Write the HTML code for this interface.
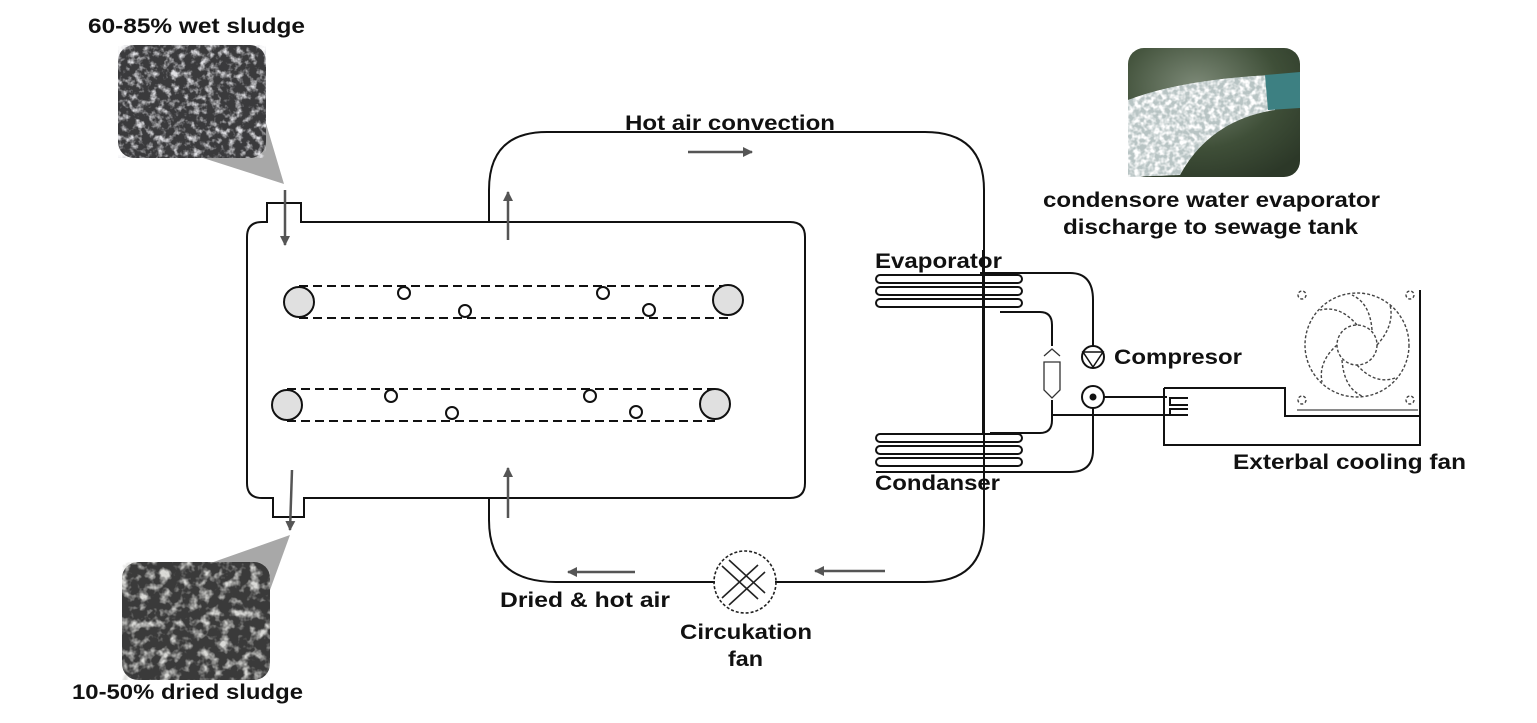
<!DOCTYPE html>
<html><head><meta charset="utf-8"><style>
html,body{margin:0;padding:0;background:#fff;}
svg{display:block;}
text{font-family:"Liberation Sans",Arial,sans-serif;font-weight:bold;font-size:21px;fill:#111;}
</style></head><body>
<svg width="1537" height="723" viewBox="0 0 1537 723" xmlns="http://www.w3.org/2000/svg">
<defs>
<filter id="noise" x="0" y="0" width="100%" height="100%">
<feTurbulence type="fractalNoise" baseFrequency="0.14" numOctaves="3" seed="3"/>
<feColorMatrix type="matrix" values="0 0 0 0 0.75  0 0 0 0 0.75  0 0 0 0 0.78  0 0 0 -3 1.6"/>
</filter>
<filter id="noise2" x="0" y="0" width="100%" height="100%">
<feTurbulence type="fractalNoise" baseFrequency="0.1" numOctaves="3" seed="7"/>
<feColorMatrix type="matrix" values="0 0 0 0 0.7  0 0 0 0 0.7  0 0 0 0 0.68  0 0 0 -3 1.6"/>
</filter>
<filter id="spray" x="0" y="0" width="100%" height="100%">
<feTurbulence type="fractalNoise" baseFrequency="0.2" numOctaves="2" seed="11"/>
<feColorMatrix type="matrix" values="0 0 0 0 1  0 0 0 0 1  0 0 0 0 1  0 0 0 -3 1.9"/>
</filter>
<radialGradient id="bg" cx="0.4" cy="0.3" r="0.8">
<stop offset="0" stop-color="#7d8a78"/><stop offset="0.6" stop-color="#3f4f38"/><stop offset="1" stop-color="#2c3828"/>
</radialGradient>
<clipPath id="sprayclip"><path d="M1128,150 L1128,100 Q1180,80 1270,75 L1275,110 Q1210,120 1180,175 L1128,177 Z"/></clipPath>
<marker id="ah" viewBox="0 0 10 10" refX="9" refY="5" markerWidth="4" markerHeight="4" orient="auto"><path d="M0,0 L10,5 L0,10 z" fill="#555"/></marker>
</defs>

<polygon points="200,157 265,120 284,184" fill="#a8a8a8"/>
<rect x="118" y="45" width="148" height="113" rx="16" fill="#3a3a3c"/>
<rect x="118" y="45" width="148" height="113" rx="16" fill="#000" filter="url(#noise)"/>
<polygon points="290,535 205,565 270,590" fill="#a8a8a8"/>
<rect x="122" y="562" width="148" height="118" rx="16" fill="#3a3a3a"/>
<rect x="122" y="562" width="148" height="118" rx="16" fill="#000" filter="url(#noise2)"/>
<rect x="1128" y="48" width="172" height="129" rx="16" fill="url(#bg)"/>
<path d="M1128,150 L1128,100 Q1180,80 1270,75 L1275,110 Q1210,120 1180,175 L1128,177 Z" fill="#b8c4c4"/>
<rect x="1128" y="48" width="172" height="129" fill="#000" filter="url(#spray)" clip-path="url(#sprayclip)"/>
<path d="M1265,75 L1300,72 L1300,108 L1268,110 Z" fill="#3d8082"/>

<text x="88" y="33" textLength="217" lengthAdjust="spacingAndGlyphs">60-85% wet sludge</text>
<text x="625" y="130" textLength="210" lengthAdjust="spacingAndGlyphs">Hot air convection</text>
<text x="1043" y="207" textLength="337" lengthAdjust="spacingAndGlyphs">condensore water evaporator</text>
<text x="1063" y="234" textLength="295" lengthAdjust="spacingAndGlyphs">discharge to sewage tank</text>
<text x="875" y="268" textLength="127" lengthAdjust="spacingAndGlyphs">Evaporator</text>
<text x="1114" y="364" textLength="128" lengthAdjust="spacingAndGlyphs">Compresor</text>
<text x="1233" y="469" textLength="233" lengthAdjust="spacingAndGlyphs">Exterbal cooling fan</text>
<text x="875" y="490" textLength="125" lengthAdjust="spacingAndGlyphs">Condanser</text>
<text x="500" y="607" textLength="170" lengthAdjust="spacingAndGlyphs">Dried &amp; hot air</text>
<text x="680" y="639" textLength="132" lengthAdjust="spacingAndGlyphs">Circukation</text>
<text x="728" y="666" textLength="35" lengthAdjust="spacingAndGlyphs">fan</text>
<text x="72" y="699" textLength="231" lengthAdjust="spacingAndGlyphs">10-50% dried sludge</text>

<g fill="none" stroke="#111" stroke-width="2">
<path d="M267,222 V203 H301 V222 H790 Q805,222 805,237 V483 Q805,498 790,498 H304 V517 H273 V498 H262 Q247,498 247,483 V237 Q247,222 262,222 Z"/>
<path d="M489,222 V190 Q489,132 547,132 H925 Q984,132 984,190 V525 Q984,582 925,582 H775"/>
<path d="M715,582 H556 Q489,582 489,520 V498"/>
<g stroke-dasharray="9,5">
<line x1="299" y1="286" x2="728" y2="286"/><line x1="299" y1="318" x2="728" y2="318"/>
<line x1="287" y1="389" x2="715" y2="389"/><line x1="287" y1="421" x2="715" y2="421"/>
</g>
<rect x="876" y="275" width="146" height="8" rx="4"/>
<rect x="876" y="287" width="146" height="8" rx="4"/>
<rect x="876" y="299" width="146" height="8" rx="4"/>
<rect x="876" y="434" width="146" height="8" rx="4"/>
<rect x="876" y="446" width="146" height="8" rx="4"/>
<rect x="876" y="458" width="146" height="8" rx="4"/>
<line x1="983" y1="250" x2="983" y2="434"/>
<path d="M980,273 H1070 Q1093,273 1093,300 V346"/>
<path d="M1093,408 V450 Q1093,472 1070,472 H876"/>
<path d="M1000,312 H1040 Q1052,312 1052,325 V346"/>
<path d="M1052,400 V420 Q1052,433 1040,433 H990"/>
<line x1="1052" y1="415" x2="1188" y2="415"/>
<line x1="1104" y1="397" x2="1167" y2="397"/>
<path d="M1164,388 H1285 V416 H1420 V290"/>
<path d="M1164,388 V445 H1420 V416"/>
<path d="M1188,398 H1170 V405 H1188 M1188,409 H1170 V415"/>
<circle cx="1093" cy="357" r="11"/>
<path d="M1083,352 L1103,352 L1093,367 Z" stroke-width="1.5"/>
<circle cx="1093" cy="397" r="11"/>
</g>
<circle cx="1093" cy="397" r="3.5" fill="#111"/>
<g fill="none" stroke="#333" stroke-width="1.3">
<path d="M1044,356 L1052,349 L1060,356 M1044,362 H1060 V390 L1052,398 L1044,390 Z"/>
</g>
<g fill="#e0e0e0" stroke="#111" stroke-width="2">
<circle cx="299" cy="302" r="15"/><circle cx="728" cy="300" r="15"/>
<circle cx="287" cy="405" r="15"/><circle cx="715" cy="404" r="15"/>
</g>
<g fill="#fff" stroke="#111" stroke-width="2">
<circle cx="404" cy="293" r="6"/><circle cx="465" cy="311" r="6"/><circle cx="603" cy="293" r="6"/><circle cx="649" cy="310" r="6"/>
<circle cx="391" cy="396" r="6"/><circle cx="452" cy="413" r="6"/><circle cx="590" cy="396" r="6"/><circle cx="636" cy="412" r="6"/>
</g>
<g fill="none" stroke="#222" stroke-width="1.6">
<circle cx="745" cy="582" r="31" stroke-dasharray="3,2"/>
<path d="M722,566 L758,599 M729,560 L765,593 M722,598 L758,565 M729,605 L765,572"/>
</g>
<g fill="none" stroke="#444" stroke-width="1.4" stroke-dasharray="3,2">
<circle cx="1357" cy="345" r="52"/>
<circle cx="1357" cy="345" r="20"/>
<path d="M1357,325 Q1340,305 1320,310 M1377,345 Q1395,325 1390,305 M1357,365 Q1375,385 1395,378 M1337,345 Q1318,362 1322,382 M1372,330 Q1370,303 1352,295 M1342,360 Q1344,388 1362,396"/>
<circle cx="1302" cy="295" r="4"/><circle cx="1410" cy="295" r="4"/><circle cx="1302" cy="400" r="4"/><circle cx="1410" cy="400" r="4"/>
</g>
<line x1="1297" y1="410" x2="1418" y2="410" stroke="#444" stroke-width="1.2"/>
<g stroke="#555" stroke-width="2.5" marker-end="url(#ah)">
<line x1="688" y1="152" x2="752" y2="152"/>
<line x1="508" y1="240" x2="508" y2="192"/>
<line x1="508" y1="518" x2="508" y2="468"/>
<line x1="635" y1="572" x2="568" y2="572"/>
<line x1="885" y1="571" x2="815" y2="571"/>
<line x1="285" y1="190" x2="285" y2="245"/>
<line x1="292" y1="470" x2="290" y2="530"/>
</g>
</svg>
</body></html>
